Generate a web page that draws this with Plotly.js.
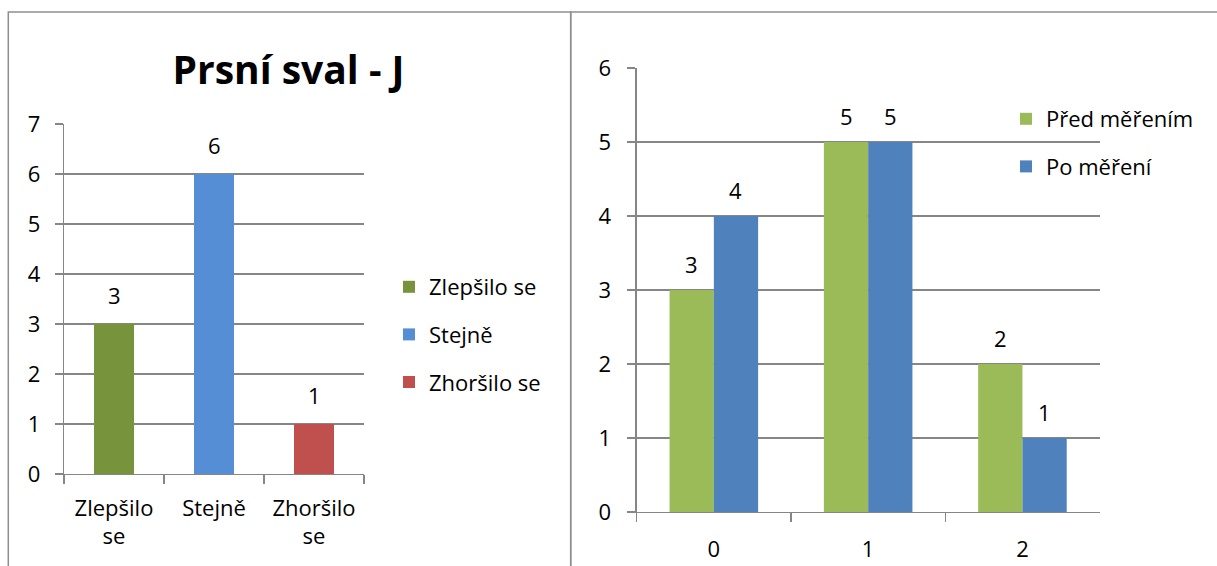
<!DOCTYPE html>
<html>
<head>
<meta charset="utf-8">
<script src="https://cdn.plot.ly/plotly-3.0.1.min.js"></script>
<style>html,body{margin:0;padding:0;background:#fff;}#chart{width:1217px;height:566px;}</style>
</head>
<body>
<div id="chart"></div>
<script>
// ---- data ----
const chartTitle = 'Prsní sval - J';
const leftCategories = ['Zlepšilo se', 'Stejně', 'Zhoršilo se'];
const leftTickLabels = ['Zlepšilo<br>se', 'Stejně', 'Zhoršilo<br>se'];
const leftValues = [3, 6, 1];
const rightCategories = ['0', '1', '2'];
const seriesNames = ['Před měřením', 'Po měření'];
const predValues = [3, 5, 2];
const poValues = [4, 5, 1];

// ---- styles ----
const W = 1217, H = 566;
const FONT = 'Open Sans, Noto Sans, sans-serif';
const FS = 22;
const leftColors = ['#77933C', '#558ED5', '#C0504D'];
const rightColors = ['#9BBB59', '#4F81BD'];
const GRID = '#868686';
const FRAME = '#8E8E8E';
const px = v => v / W;
const py = v => 1 - v / H;

const traces = [];
leftCategories.forEach((c, i) => {
  traces.push({
    type: 'bar', x: [c], y: [leftValues[i]], name: c,
    xaxis: 'x', yaxis: 'y', width: 0.4,
    marker: {color: leftColors[i]},
    legend: 'legend', legendgroup: 'l' + i,
    hoverinfo: 'x+y'
  });
});
const rightWidth = 0.287;
[predValues, poValues].forEach((vals, s) => {
  traces.push({
    type: 'bar', x: rightCategories, y: vals, name: seriesNames[s],
    xaxis: 'x2', yaxis: 'y2', width: rightWidth,
    offset: s === 0 ? -rightWidth : 0,
    marker: {color: rightColors[s]},
    legend: 'legend2', legendgroup: 'r' + s
  });
});

// value labels as annotations computed from data
const annotations = [];
leftCategories.forEach((c, i) => {
  annotations.push({xref: 'x', yref: 'y', x: c, y: leftValues[i], text: String(leftValues[i]),
    showarrow: false, yanchor: 'bottom', yshift: 12, font: {family: FONT, size: FS, color: '#000'}});
});
[predValues, poValues].forEach((vals, s) => {
  vals.forEach((v, i) => {
    const pos = i + (s === 0 ? -rightWidth / 2 : rightWidth / 2);
    annotations.push({xref: 'x2', yref: 'y2', x: pos, y: v, text: String(v),
      showarrow: false, yanchor: 'bottom', yshift: 9, font: {family: FONT, size: FS, color: '#000'}});
  });
});

const axisCommon = {
  showline: true, linecolor: GRID, linewidth: 1.3,
  ticks: 'outside', tickcolor: GRID, tickwidth: 1.3,
  tickfont: {family: FONT, size: FS, color: '#000'},
  fixedrange: true
};

const layout = {
  width: W, height: H, autosize: false,
  margin: {l: 0, r: 0, t: 0, b: 0},
  paper_bgcolor: '#fff', plot_bgcolor: 'rgba(0,0,0,0)',
  barmode: 'overlay',
  font: {family: FONT, size: FS, color: '#000'},
  title: {text: '<b>' + chartTitle + '</b>', x: px(288.5), xanchor: 'center', xref: 'paper',
    y: py(70), yanchor: 'middle', yref: 'paper', font: {family: FONT, size: 39, color: '#000'}},
  xaxis: Object.assign({}, axisCommon, {domain: [px(64), px(364)], anchor: 'y', type: 'category',
    categoryorder: 'array', categoryarray: leftCategories,
    tickvals: leftCategories, ticktext: leftTickLabels,
    tickson: 'boundaries', ticklen: 9, showgrid: false, ticklabelstandoff: 14}),
  yaxis: Object.assign({}, axisCommon, {domain: [py(474), py(124)], anchor: 'x', range: [0, 7], dtick: 1,
    ticklen: 8, showgrid: true, gridcolor: GRID, gridwidth: 1.3, zeroline: false, ticklabelstandoff: 10}),
  xaxis2: Object.assign({}, axisCommon, {domain: [px(636.7), px(1099.6)], anchor: 'y2', type: 'category',
    categoryorder: 'array', categoryarray: rightCategories,
    tickson: 'boundaries', ticklen: 9, showgrid: false, ticklabelstandoff: 17}),
  yaxis2: Object.assign({}, axisCommon, {domain: [py(512), py(68)], anchor: 'x2', range: [0, 6], dtick: 1,
    ticklen: 8, showgrid: true, gridcolor: GRID, gridwidth: 1.3, zeroline: false, ticklabelstandoff: 12}),
  legend: {x: px(389), xanchor: 'left', y: py(266), yanchor: 'top', bgcolor: 'rgba(0,0,0,0)',
    font: {family: FONT, size: FS, color: '#000'}, tracegroupgap: 16, itemclick: false},
  legend2: {x: px(1006), xanchor: 'left', y: py(98), yanchor: 'top', bgcolor: 'rgba(0,0,0,0)',
    font: {family: FONT, size: FS, color: '#000'}, tracegroupgap: 16, itemclick: false},
  showlegend: true,
  annotations: annotations,
  shapes: [
    {type: 'rect', xref: 'paper', yref: 'paper', x0: px(8.3), x1: px(570.7), y0: -0.2, y1: py(12),
      line: {color: FRAME, width: 1.5}, layer: 'below'},
    {type: 'rect', xref: 'paper', yref: 'paper', x0: px(570.7), x1: 1.2, y0: -0.2, y1: py(12),
      line: {color: FRAME, width: 1.5}, layer: 'below'}
  ]
};

Plotly.newPlot('chart', traces, layout, {displayModeBar: false, staticPlot: true});
</script>
</body>
</html>
